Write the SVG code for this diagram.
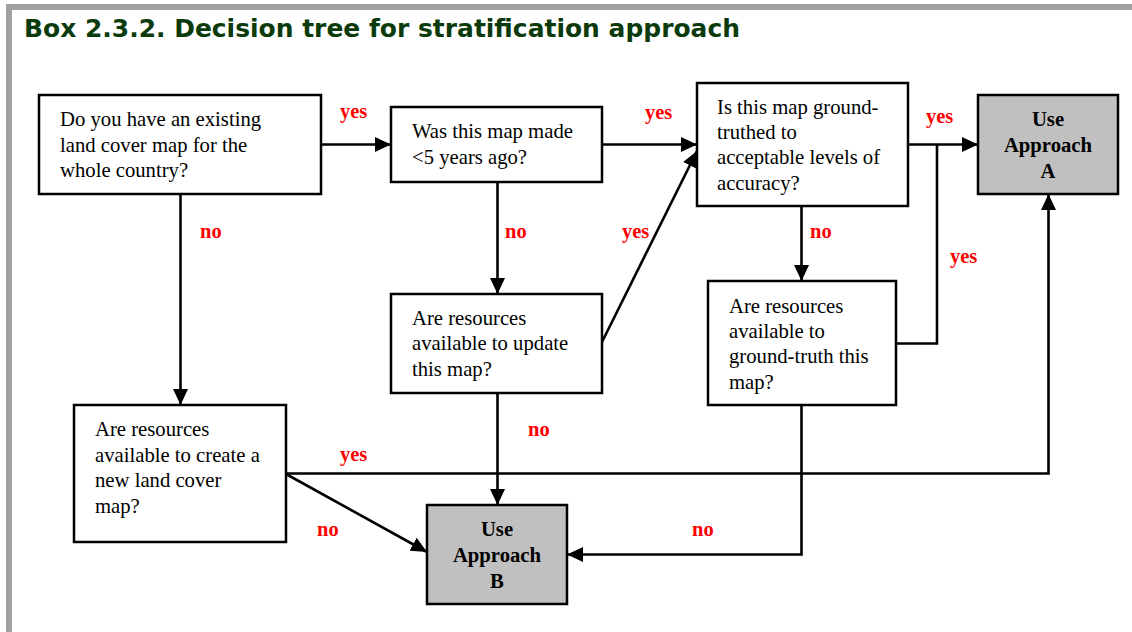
<svg xmlns="http://www.w3.org/2000/svg" width="1132" height="632" viewBox="0 0 1132 632">
<style>
.box{fill:#ffffff;stroke:#000;stroke-width:2.5}
.res{fill:#c0c0c0;stroke:#000;stroke-width:2.5}
.t{font-family:"Liberation Serif","Times New Roman",serif;font-size:20.7px;fill:#000}
.tb{font-family:"Liberation Serif","Times New Roman",serif;font-size:20.7px;font-weight:bold;fill:#000;text-anchor:middle}
.lbl{font-family:"Liberation Serif","Times New Roman",serif;font-size:20.5px;font-weight:bold;fill:#ff0000}
.c{fill:none;stroke:#000;stroke-width:2.6}
.title{font-family:"DejaVu Sans","Liberation Sans",sans-serif;font-size:24.5px;font-weight:bold;fill:#0b3b0b}
</style>
<defs>
<marker id="ah" markerUnits="userSpaceOnUse" markerWidth="16" markerHeight="15" refX="16" refY="7.5" orient="auto">
<path d="M0,0 L16,7.5 L0,15 z" fill="#000"/>
</marker>
</defs>
<rect x="0" y="0" width="1132" height="632" fill="#ffffff"/>
<rect x="6" y="4" width="1126" height="6" fill="#a0a0a0"/>
<rect x="6" y="4" width="6" height="628" fill="#a0a0a0"/>
<text class="title" x="24" y="37" textLength="716" lengthAdjust="spacingAndGlyphs">Box 2.3.2. Decision tree for stratification approach</text>

<g id="connectors">
<line class="c" x1="321" y1="144.5" x2="391" y2="144.5" marker-end="url(#ah)"/>
<line class="c" x1="602" y1="144.5" x2="697" y2="144.5" marker-end="url(#ah)"/>
<line class="c" x1="908" y1="144.5" x2="978" y2="144.5" marker-end="url(#ah)"/>
<line class="c" x1="180.5" y1="194" x2="180.5" y2="405" marker-end="url(#ah)"/>
<line class="c" x1="497.5" y1="182" x2="497.5" y2="294" marker-end="url(#ah)"/>
<line class="c" x1="602" y1="342" x2="697" y2="151" marker-end="url(#ah)"/>
<line class="c" x1="497.5" y1="393" x2="497.5" y2="505" marker-end="url(#ah)"/>
<line class="c" x1="801.5" y1="206" x2="801.5" y2="281" marker-end="url(#ah)"/>
<polyline class="c" points="896,343.5 937,343.5 937,144.5"/>
<polyline class="c" points="286,473.5 1048.5,473.5 1048.5,194" marker-end="url(#ah)"/>
<line class="c" x1="286" y1="474" x2="427" y2="552" marker-end="url(#ah)"/>
<polyline class="c" points="801.5,405 801.5,554.5 567,554.5" marker-end="url(#ah)"/>
<text class="lbl" x="340" y="118">yes</text>
<text class="lbl" x="645" y="119">yes</text>
<text class="lbl" x="926" y="123">yes</text>
<text class="lbl" x="200" y="238">no</text>
<text class="lbl" x="505" y="238">no</text>
<text class="lbl" x="622" y="238">yes</text>
<text class="lbl" x="810" y="238">no</text>
<text class="lbl" x="950" y="263">yes</text>
<text class="lbl" x="528" y="436">no</text>
<text class="lbl" x="340" y="461">yes</text>
<text class="lbl" x="317" y="536">no</text>
<text class="lbl" x="692" y="536">no</text>
</g>

<g id="n1">
<rect class="box" x="39" y="95" width="282" height="99"/>
<text class="t" x="60" y="126">Do you have an existing</text>
<text class="t" x="60" y="152">land cover map for the</text>
<text class="t" x="60" y="177">whole country?</text>
</g>
<g id="n2">
<rect class="box" x="391" y="107" width="211" height="75"/>
<text class="t" x="412" y="138">Was this map made</text>
<text class="t" x="412" y="164">&lt;5 years ago?</text>
</g>
<g id="n3">
<rect class="box" x="697" y="83" width="211" height="123"/>
<text class="t" x="717" y="114">Is this map ground-</text>
<text class="t" x="717" y="139">truthed to</text>
<text class="t" x="717" y="164">acceptable levels of</text>
<text class="t" x="717" y="190">accuracy?</text>
</g>
<g id="approachA">
<rect class="res" x="978" y="95" width="140" height="99"/>
<text class="tb" x="1048" y="126">Use</text>
<text class="tb" x="1048" y="152">Approach</text>
<text class="tb" x="1048" y="178">A</text>
</g>
<g id="n4">
<rect class="box" x="391" y="294" width="211" height="99"/>
<text class="t" x="412" y="325">Are resources</text>
<text class="t" x="412" y="350">available to update</text>
<text class="t" x="412" y="376">this map?</text>
</g>
<g id="n6">
<rect class="box" x="708" y="281" width="188" height="124"/>
<text class="t" x="729" y="313">Are resources</text>
<text class="t" x="729" y="338">available to</text>
<text class="t" x="729" y="363">ground-truth this</text>
<text class="t" x="729" y="389">map?</text>
</g>
<g id="n5">
<rect class="box" x="74" y="405" width="212" height="137"/>
<text class="t" x="95" y="436">Are resources</text>
<text class="t" x="95" y="462">available to create a</text>
<text class="t" x="95" y="487">new land cover</text>
<text class="t" x="95" y="513">map?</text>
</g>
<g id="approachB">
<rect class="res" x="427" y="505" width="140" height="99"/>
<text class="tb" x="497" y="536">Use</text>
<text class="tb" x="497" y="562">Approach</text>
<text class="tb" x="497" y="588">B</text>
</g>
</svg>
